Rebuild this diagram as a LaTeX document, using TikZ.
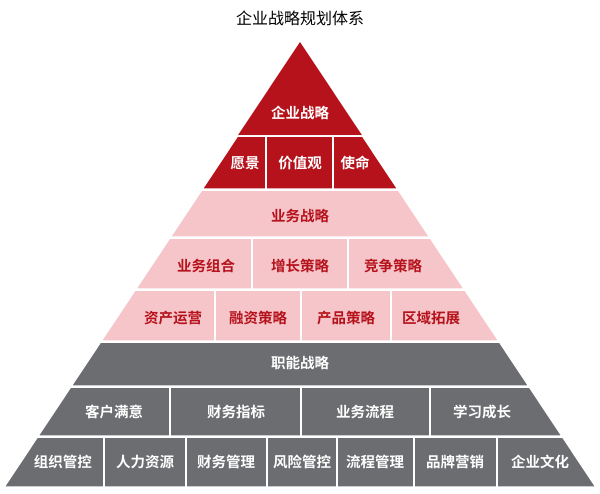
\documentclass[tikz,border=0pt]{standalone}
\usepackage{fontspec}
\newfontfamily\cjk{Noto Sans CJK SC}
\newfontfamily\cjkb{Noto Sans CJK SC Bold}
\usetikzlibrary{positioning}
\definecolor{topred}{HTML}{B5121B}
\definecolor{midpink}{HTML}{F6C5CA}
\definecolor{lowgray}{HTML}{6B6D70}
\tikzstyle{cellw}=[text=white, font=\cjkb\fontsize{14.5}{14.5}\selectfont]
\tikzstyle{cellr}=[text=topred, font=\cjkb\fontsize{14.5}{14.5}\selectfont]
\tikzstyle{sep}=[draw=white, line width=2pt]
% band: colour, top y, bottom y
\newcommand{\band}[3]{\fill[#1, draw=white, line width=1.5pt]
  ({300-0.665*(#2-42)},#2) -- ({300+0.665*(#2-42)},#2) --
  ({300+0.665*(#3-42)},#3) -- ({300-0.665*(#3-42)},#3) -- cycle;}

\begin{document}
\begin{tikzpicture}[x=1pt, y=-1pt]
\useasboundingbox (0,0) rectangle (600,493);
%
  \node[font=\cjk\fontsize{16}{16}\selectfont] (title) at (300,18) {企业战略规划体系};
% bands
  \fill[topred] (300,42) -- ({300+0.665*93},135) -- ({300-0.665*93},135) -- cycle;
  \band{topred}{136}{189}
  \band{midpink}{190}{237}
  \band{midpink}{238}{289}
  \band{midpink}{290}{341}
  \band{lowgray}{342}{386}
  \band{lowgray}{387}{436}
  \band{lowgray}{437}{487}
% dividers
  \foreach \x in {266,333} \draw[sep] (\x,136) -- (\x,189);
  \foreach \x in {252,348} \draw[sep] (\x,238) -- (\x,289);
  \foreach \x in {215,301,391} \draw[sep] (\x,290) -- (\x,341);
  \foreach \x in {170,301,430} \draw[sep] (\x,387) -- (\x,436);
  \foreach \x in {104,186,267,337,414,497} \draw[sep] (\x,437) -- (\x,487);
% labels
  \node[cellw] (corp) at (300,113) {企业战略};
  \node[cellw] (vision) at (245,163) {愿景};
  \node[cellw] (values) at (300,163) {价值观};
  \node[cellw] (mission) at (355,163) {使命};
  \node[cellr] (biz) at (300,216) {业务战略};
  \node[cellr] (b1) at (206,266) {业务组合};
  \node[cellr] (b2) at (300,266) {增长策略};
  \node[cellr] (b3) at (393,266) {竞争策略};
  \node[cellr] (c1) at (173,318) {资产运营};
  \node[cellr] (c2) at (258,318) {融资策略};
  \node[cellr] (c3) at (346,318) {产品策略};
  \node[cellr] (c4) at (431,318) {区域拓展};
  \node[cellw] (func) at (300,363) {职能战略};
  \node[cellw] (d1) at (114,412) {客户满意};
  \node[cellw] (d2) at (236,412) {财务指标};
  \node[cellw] (d3) at (365,412) {业务流程};
  \node[cellw] (d4) at (482,412) {学习成长};
  \node[cellw] (e1) at (63,462) {组织管控};
  \node[cellw] (e2) at (145,462) {人力资源};
  \node[cellw] (e3) at (226,462) {财务管理};
  \node[cellw] (e4) at (302,462) {风险管控};
  \node[cellw] (e5) at (375,462) {流程管理};
  \node[cellw] (e6) at (455,462) {品牌营销};
  \node[cellw] (e7) at (540,462) {企业文化};
%
\end{tikzpicture}
\end{document}
